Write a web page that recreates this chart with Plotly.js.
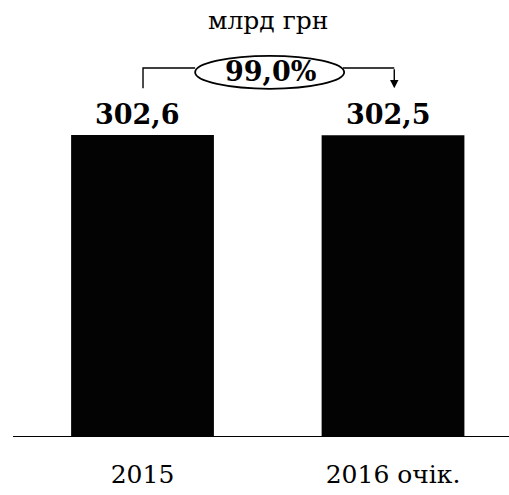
<!DOCTYPE html>
<html>
<head>
<meta charset="utf-8">
<script src="https://cdn.plot.ly/plotly-3.0.1.min.js"></script>
<style>html,body{margin:0;padding:0;background:#fff;}#chart{width:509px;height:495px;}</style>
</head>
<body>
<div id="chart"></div>
<script>
const categories = ["2015", "2016 очік."];
const values = [302.6, 302.5];
const valueLabels = ["302,6", "302,5"];
const unitLabel = "млрд грн";
const changeLabel = "99,0%";

const serif = "DejaVu Serif";

const trace = {
  type: "bar",
  x: [0, 1],
  y: values,
  width: 0.57,
  marker: {color: "#030303", line: {width: 0}},
  hoverinfo: "skip"
};

const annotations = values.map((v, i) => ({
  x: i, y: v, xref: "x", yref: "y",
  text: "<b>" + valueLabels[i] + "</b>",
  showarrow: false,
  yanchor: "bottom",
  yshift: 3,
  xshift: -5,
  font: {family: serif, size: 27, color: "#000"}
}));

annotations.push({
  x: 0.51, y: 366, xref: "x", yref: "y",
  text: "<b>" + changeLabel + "</b>",
  showarrow: false,
  font: {family: serif, size: 27, color: "#000"}
});

annotations.push({
  xref: "paper", yref: "paper", x: 0.515, y: 1,
  yanchor: "middle",
  yshift: -20,
  text: unitLabel,
  showarrow: false,
  font: {family: serif, size: 25, color: "#000"}
});

// arrow down at second bar
annotations.push({
  x: 1.005, y: 349.5, xref: "x", yref: "y",
  ax: 1.005, ay: 370, axref: "x", ayref: "y",
  text: "",
  showarrow: true,
  arrowhead: 2,
  arrowsize: 1.2,
  arrowwidth: 1.4,
  arrowcolor: "#000"
});

const shapes = [
  {type: "line", xref: "paper", yref: "y", x0: 0, x1: 1, y0: 0, y1: 0,
   line: {color: "#000", width: 2}},
  {type: "path", xref: "x", yref: "y",
   path: "M 0.002 349.5 L 0.002 369.8 L 0.21 369.8 M 0.80 369.8 L 1.005 369.8",
   line: {color: "#000", width: 1.4}},
  {type: "circle", xref: "x", yref: "y",
   x0: 0.21, x1: 0.805, y0: 349, y1: 382,
   line: {color: "#000", width: 1.8}, fillcolor: "rgba(0,0,0,0)"}
];

const layout = {
  width: 509, height: 495,
  margin: {l: 13, r: 0, t: 0, b: 58},
  paper_bgcolor: "#fff", plot_bgcolor: "#fff",
  showlegend: false,
  xaxis: {
    range: [-0.517, 1.463],
    tickmode: "array",
    tickvals: [0, 1],
    ticktext: categories,
    showgrid: false, zeroline: false, showline: false,
    ticks: "",
    ticklabelstandoff: 20,
    tickfont: {family: serif, size: 25, color: "#000"}
  },
  yaxis: {
    range: [0, 438],
    visible: false,
    showgrid: false, zeroline: false
  },
  annotations: annotations,
  shapes: shapes
};

Plotly.newPlot("chart", [trace], layout, {staticPlot: true, displayModeBar: false});
</script>
</body>
</html>
